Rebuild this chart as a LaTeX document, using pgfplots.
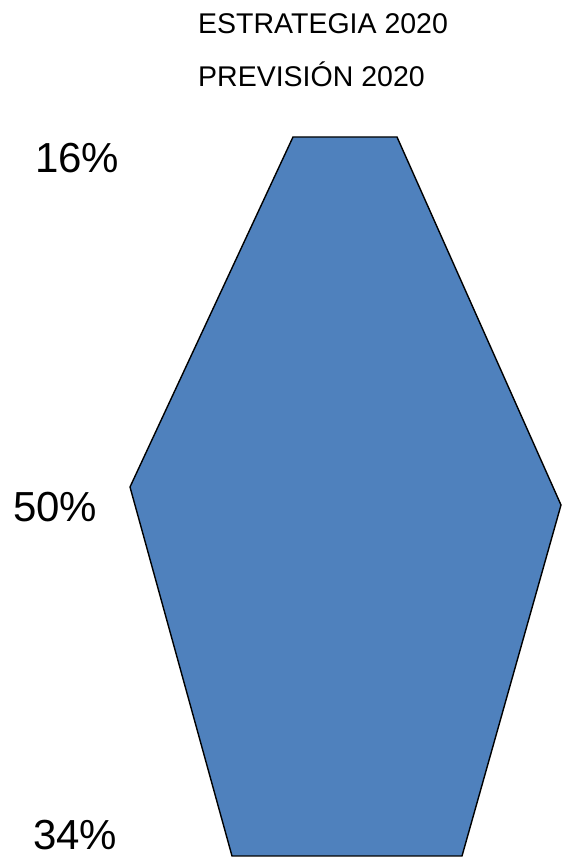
\documentclass[border=0pt]{standalone}
\usepackage{pgfplots}
\pgfplotsset{compat=1.18}
\usepackage{fontspec}
\setmainfont{Liberation Sans}
\definecolor{barblue}{HTML}{4F81BD}
\begin{document}
\begin{tikzpicture}
\begin{axis}[
  width=562bp, height=858bp, scale only axis,
  xmin=0, xmax=562, ymin=0, ymax=858,
  hide axis, clip=false,
]
% polygon outline in pixel-space coordinates (y measured from bottom)
\addplot[draw=black, line width=1.4bp, fill=barblue, line join=miter]
  coordinates {(293,721) (397,721) (561,353) (462,2) (232,2) (130,371)} -- cycle;
\node[anchor=base west, font=\fontsize{28.5bp}{32bp}\selectfont, inner sep=0pt] at (axis cs:198,824) {ESTRATEGIA 2020};
\node[anchor=base west, font=\fontsize{28.5bp}{32bp}\selectfont, inner sep=0pt] at (axis cs:198,771) {PREVISIÓN 2020};
\node[anchor=base west, font=\fontsize{42bp}{48bp}\selectfont, inner sep=0pt] at (axis cs:35,685) {16\%};
\node[anchor=base west, font=\fontsize{42bp}{48bp}\selectfont, inner sep=0pt] at (axis cs:13,336) {50\%};
\node[anchor=base west, font=\fontsize{42bp}{48bp}\selectfont, inner sep=0pt] at (axis cs:33,9) {34\%};
\end{axis}
\path (current axis.south west) rectangle (current axis.north east);
\end{tikzpicture}
\end{document}
